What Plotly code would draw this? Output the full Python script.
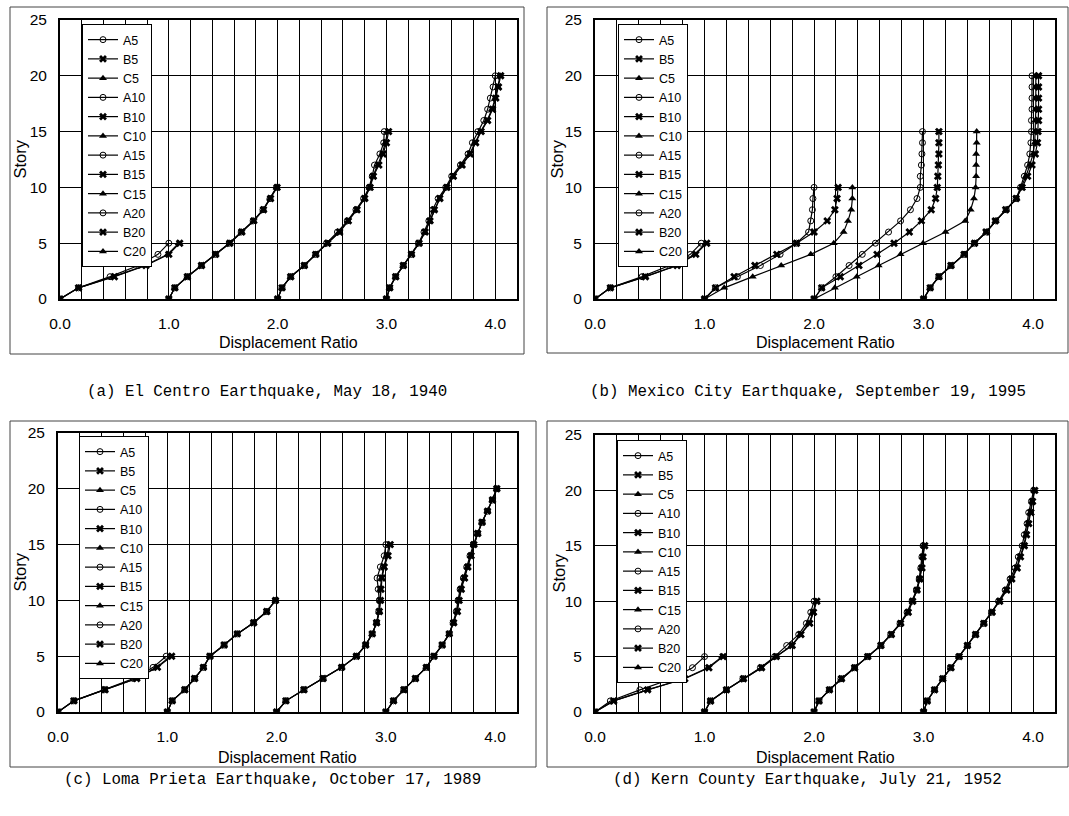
import plotly.graph_objects as go

W, H = 1069, 816

SERIES = ["A5", "B5", "C5", "A10", "B10", "C10", "A15", "B15", "C15", "A20", "B20", "C20"]
GROUP_OFFSET = {"5": 0.0, "10": 1.0, "15": 2.0, "20": 3.0}
X_TICKS = [0, 1, 2, 3, 4]
X_TICKTEXT = ["0.0", "1.0", "2.0", "3.0", "4.0"]
Y_TICKS = [0, 5, 10, 15, 20, 25]
CAPTIONS = [
    "(a) El Centro Earthquake, May 18, 1940",
    "(b) Mexico City Earthquake, September 19, 1995",
    "(c) Loma Prieta Earthquake, October 17, 1989",
    "(d) Kern County Earthquake, July 21, 1952",
]

# displacement ratio per story (story 0 .. top), before the group offset
EL_CENTRO = {
    "A5": [0, 0.17, 0.46, 0.72, 0.90, 1.00],
    "B5": [0, 0.17, 0.50, 0.79, 1.00, 1.10],
    "C5": [0, 0.17, 0.49, 0.78, 0.99, 1.09],
    "A10": [0, 0.055, 0.17, 0.30, 0.43, 0.555, 0.665, 0.775, 0.865, 0.93, 0.99],
    "B10": [0, 0.055, 0.17, 0.30, 0.43, 0.56, 0.67, 0.78, 0.87, 0.935, 0.995],
    "C10": [0, 0.055, 0.17, 0.30, 0.43, 0.56, 0.67, 0.78, 0.87, 0.93, 0.99],
    "A15": [0, 0.04, 0.12, 0.245, 0.35, 0.45, 0.55, 0.64, 0.72, 0.79, 0.84, 0.87, 0.89, 0.94, 0.975, 0.98],
    "B15": [0, 0.04, 0.12, 0.245, 0.35, 0.46, 0.57, 0.65, 0.73, 0.80, 0.85, 0.88, 0.93, 0.97, 1.00, 1.02],
    "C15": [0, 0.04, 0.12, 0.245, 0.35, 0.46, 0.565, 0.645, 0.725, 0.80, 0.845, 0.875, 0.92, 0.96, 0.99, 1.01],
    "A20": [0, 0.03, 0.085, 0.155, 0.23, 0.295, 0.345, 0.39, 0.425, 0.475, 0.545, 0.60, 0.68, 0.75, 0.79, 0.84, 0.895, 0.93, 0.955, 0.98, 1.0],
    "B20": [0, 0.03, 0.085, 0.155, 0.23, 0.30, 0.355, 0.40, 0.44, 0.49, 0.555, 0.615, 0.695, 0.77, 0.82, 0.87, 0.93, 0.975, 1.005, 1.03, 1.05],
    "C20": [0, 0.03, 0.085, 0.155, 0.23, 0.30, 0.355, 0.40, 0.44, 0.49, 0.555, 0.61, 0.69, 0.765, 0.815, 0.865, 0.925, 0.97, 1.0, 1.025, 1.045],
}

MEXICO_CITY = {
    "A5": [0, 0.14, 0.43, 0.68, 0.87, 0.97],
    "B5": [0, 0.14, 0.46, 0.75, 0.92, 1.02],
    "C5": [0, 0.14, 0.46, 0.74, 0.91, 1.01],
    "A10": [0, 0.10, 0.30, 0.51, 0.69, 0.84, 0.95, 0.97, 0.985, 0.99, 1.0],
    "B10": [0, 0.10, 0.27, 0.46, 0.66, 0.84, 1.00, 1.12, 1.19, 1.21, 1.22],
    "C10": [0, 0.18, 0.44, 0.70, 0.97, 1.18, 1.27, 1.31, 1.34, 1.35, 1.35],
    "A15": [0, 0.07, 0.20, 0.32, 0.44, 0.56, 0.68, 0.79, 0.88, 0.94, 0.97, 0.97, 0.98, 0.985, 0.99, 0.99],
    "B15": [0, 0.07, 0.24, 0.41, 0.575, 0.73, 0.87, 0.98, 1.07, 1.11, 1.125, 1.13, 1.135, 1.14, 1.14, 1.14],
    "C15": [0, 0.19, 0.39, 0.59, 0.79, 0.995, 1.20, 1.38, 1.43, 1.46, 1.475, 1.48, 1.48, 1.48, 1.485, 1.485],
    "A20": [0, 0.06, 0.14, 0.25, 0.37, 0.465, 0.575, 0.66, 0.755, 0.845, 0.885, 0.92, 0.95, 0.97, 0.98, 0.985, 0.985, 0.99, 0.99, 0.99, 0.99],
    "B20": [0, 0.06, 0.14, 0.25, 0.37, 0.465, 0.57, 0.655, 0.75, 0.845, 0.90, 0.95, 0.99, 1.02, 1.04, 1.045, 1.05, 1.05, 1.05, 1.05, 1.05],
    "C20": [0, 0.06, 0.14, 0.25, 0.37, 0.465, 0.575, 0.66, 0.755, 0.85, 0.89, 0.935, 0.97, 1.0, 1.015, 1.02, 1.02, 1.025, 1.025, 1.025, 1.025],
}

LOMA_PRIETA = {
    "A5": [0, 0.145, 0.425, 0.69, 0.87, 0.99],
    "B5": [0, 0.145, 0.43, 0.72, 0.91, 1.04],
    "C5": [0, 0.145, 0.43, 0.72, 0.90, 1.03],
    "A10": [0, 0.045, 0.16, 0.25, 0.33, 0.39, 0.52, 0.64, 0.79, 0.91, 0.99],
    "B10": [0, 0.045, 0.16, 0.25, 0.33, 0.39, 0.52, 0.64, 0.79, 0.91, 0.99],
    "C10": [0, 0.045, 0.16, 0.25, 0.33, 0.39, 0.52, 0.64, 0.79, 0.91, 0.99],
    "A15": [0, 0.085, 0.25, 0.425, 0.595, 0.73, 0.815, 0.875, 0.915, 0.935, 0.94, 0.93, 0.92, 0.95, 0.985, 1.0],
    "B15": [0, 0.085, 0.25, 0.425, 0.595, 0.73, 0.815, 0.875, 0.915, 0.94, 0.95, 0.955, 0.965, 0.985, 1.02, 1.04],
    "C15": [0, 0.085, 0.25, 0.425, 0.595, 0.73, 0.815, 0.875, 0.915, 0.94, 0.95, 0.95, 0.96, 0.98, 1.01, 1.03],
    "A20": [0, 0.07, 0.165, 0.27, 0.37, 0.44, 0.515, 0.58, 0.615, 0.645, 0.66, 0.68, 0.71, 0.74, 0.77, 0.80, 0.84, 0.88, 0.93, 0.975, 1.015],
    "B20": [0, 0.07, 0.165, 0.27, 0.37, 0.44, 0.515, 0.58, 0.62, 0.655, 0.67, 0.69, 0.72, 0.75, 0.78, 0.805, 0.84, 0.88, 0.93, 0.975, 1.015],
    "C20": [0, 0.07, 0.165, 0.27, 0.37, 0.44, 0.515, 0.58, 0.62, 0.65, 0.665, 0.685, 0.715, 0.745, 0.775, 0.805, 0.84, 0.88, 0.93, 0.975, 1.015],
}

KERN_COUNTY = {
    "A5": [0, 0.14, 0.41, 0.70, 0.89, 1.00],
    "B5": [0, 0.17, 0.48, 0.82, 1.04, 1.17],
    "C5": [0, 0.17, 0.48, 0.81, 1.03, 1.16],
    "A10": [0, 0.055, 0.20, 0.35, 0.51, 0.64, 0.75, 0.86, 0.93, 0.97, 1.0],
    "B10": [0, 0.055, 0.20, 0.355, 0.52, 0.655, 0.80, 0.88, 0.96, 0.995, 1.025],
    "C10": [0, 0.055, 0.20, 0.355, 0.52, 0.655, 0.795, 0.875, 0.955, 0.99, 1.02],
    "A15": [0, 0.045, 0.14, 0.245, 0.37, 0.49, 0.61, 0.70, 0.785, 0.85, 0.895, 0.935, 0.96, 0.975, 0.985, 0.995],
    "B15": [0, 0.045, 0.14, 0.25, 0.37, 0.49, 0.61, 0.705, 0.79, 0.86, 0.90, 0.94, 0.965, 0.985, 0.995, 1.01],
    "C15": [0, 0.045, 0.14, 0.25, 0.37, 0.49, 0.61, 0.705, 0.79, 0.855, 0.90, 0.94, 0.965, 0.98, 0.99, 1.005],
    "A20": [0, 0.033, 0.10, 0.175, 0.245, 0.32, 0.40, 0.475, 0.55, 0.62, 0.685, 0.745, 0.79, 0.835, 0.865, 0.90, 0.92, 0.945, 0.96, 0.985, 1.005],
    "B20": [0, 0.033, 0.10, 0.175, 0.25, 0.325, 0.40, 0.475, 0.55, 0.625, 0.695, 0.76, 0.805, 0.855, 0.885, 0.92, 0.94, 0.96, 0.98, 0.995, 1.015],
    "C20": [0, 0.033, 0.10, 0.175, 0.25, 0.325, 0.40, 0.475, 0.55, 0.625, 0.69, 0.755, 0.80, 0.85, 0.88, 0.915, 0.935, 0.955, 0.975, 0.99, 1.01],
}

PANELS = [EL_CENTRO, MEXICO_CITY, LOMA_PRIETA, KERN_COUNTY]

# ---- layout geometry (pixels) ----
PLOT_BOX = [(60, 20, 517, 299), (595, 20, 1055, 299), (58, 433, 517, 712), (595, 435, 1055, 712)]
FRAME_BOX = [(10, 7, 524, 354), (547, 7, 1068, 353), (10, 421, 536, 767), (547, 421, 1068, 767)]
LEGEND_POS = [(82, 24), (618, 24), (79, 436), (617, 440)]
STORY_X = [20, 557, 19, 558]
XTITLE_Y = [342, 342, 757, 757]
CAPTION_Y = [392, 392, 780, 780]

MARKERS = {"A": dict(symbol="circle-open", size=6, line=dict(width=1, color="black")),
           "B": dict(symbol="x", size=7, line=dict(width=0)),
           "C": dict(symbol="triangle-up", size=7, line=dict(width=0))}


def px(x):
    return x / W


def py(y):
    return 1 - y / H


fig = go.Figure()

for i, data in enumerate(PANELS):
    suffix = "" if i == 0 else str(i + 1)
    legend_id = "legend" + suffix
    for name in SERIES:
        kind, grp = name[0], name[1:]
        vals = data[name]
        xs = [v + GROUP_OFFSET[grp] for v in vals]
        ys = list(range(len(vals)))
        fig.add_trace(go.Scatter(
            x=xs, y=ys, mode="lines+markers", name=name,
            line=dict(color="black", width=1.2),
            marker=dict(color="black", **MARKERS[kind]),
            xaxis="x" + suffix, yaxis="y" + suffix,
            legend=legend_id, showlegend=True,
        ))

layout = dict(
    width=W, height=H,
    margin=dict(l=0, r=0, t=0, b=0, autoexpand=False),
    paper_bgcolor="white", plot_bgcolor="white",
    font=dict(family="Liberation Sans, Arial, sans-serif", color="black", size=15),
    shapes=[], annotations=[],
)

for i in range(4):
    suffix = "" if i == 0 else str(i + 1)
    x0, y0, x1, y1 = PLOT_BOX[i]
    layout["xaxis" + suffix] = dict(
        domain=[px(x0), px(x1)], range=[0, 4.2], anchor="y" + suffix, automargin=False,
        tickmode="array", tickvals=X_TICKS, ticktext=X_TICKTEXT,
        showgrid=True, gridcolor="black", gridwidth=1,
        minor=dict(tickmode="linear", tick0=0, dtick=0.2, showgrid=True, gridcolor="black", gridwidth=1),
        showline=True, linecolor="black", linewidth=2, mirror=True,
        zeroline=False, ticks="", ticklabelstandoff=9,
        tickfont=dict(size=15.5, color="black"),
    )
    layout["yaxis" + suffix] = dict(
        domain=[py(y1), py(y0)], range=[0, 25], anchor="x" + suffix, automargin=False,
        tickmode="array", tickvals=Y_TICKS,
        showgrid=True, gridcolor="black", gridwidth=1,
        showline=True, linecolor="black", linewidth=2, mirror=True,
        zeroline=False, ticks="", ticklabelstandoff=8,
        tickfont=dict(size=15.5, color="black"),
    )
    lx, ly = LEGEND_POS[i]
    layout["legend" + suffix] = dict(
        x=px(lx), y=py(ly), xanchor="left", yanchor="top",
        bgcolor="white", bordercolor="black", borderwidth=1,
        font=dict(size=12.5, color="black"), itemwidth=30, tracegroupgap=0,
        traceorder="normal",
    )
    fx0, fy0, fx1, fy1 = FRAME_BOX[i]
    layout["shapes"].append(dict(type="rect", xref="paper", yref="paper",
                                 x0=px(fx0), x1=px(fx1), y0=py(fy1), y1=py(fy0),
                                 line=dict(color="#444", width=1), layer="below"))
    layout["annotations"].append(dict(text="Story", xref="paper", yref="paper",
                                      x=px(STORY_X[i]), y=py((y0 + y1) / 2), textangle=-90,
                                      showarrow=False, xanchor="center", yanchor="middle",
                                      font=dict(size=16.5)))
    layout["annotations"].append(dict(text="Displacement Ratio", xref="paper", yref="paper",
                                      x=px((x0 + x1) / 2), y=py(XTITLE_Y[i]),
                                      showarrow=False, xanchor="center", yanchor="middle",
                                      font=dict(size=16)))
    layout["annotations"].append(dict(text=CAPTIONS[i], xref="paper", yref="paper",
                                      x=px((fx0 + fx1) / 2), y=py(CAPTION_Y[i]),
                                      showarrow=False, xanchor="center", yanchor="middle",
                                      font=dict(size=15.8, family="Liberation Mono, Courier New, monospace")))

fig.update_layout(**layout)
fig.write_html("out.html", config={"displayModeBar": False},
               post_script="document.body.style.margin='0';")
